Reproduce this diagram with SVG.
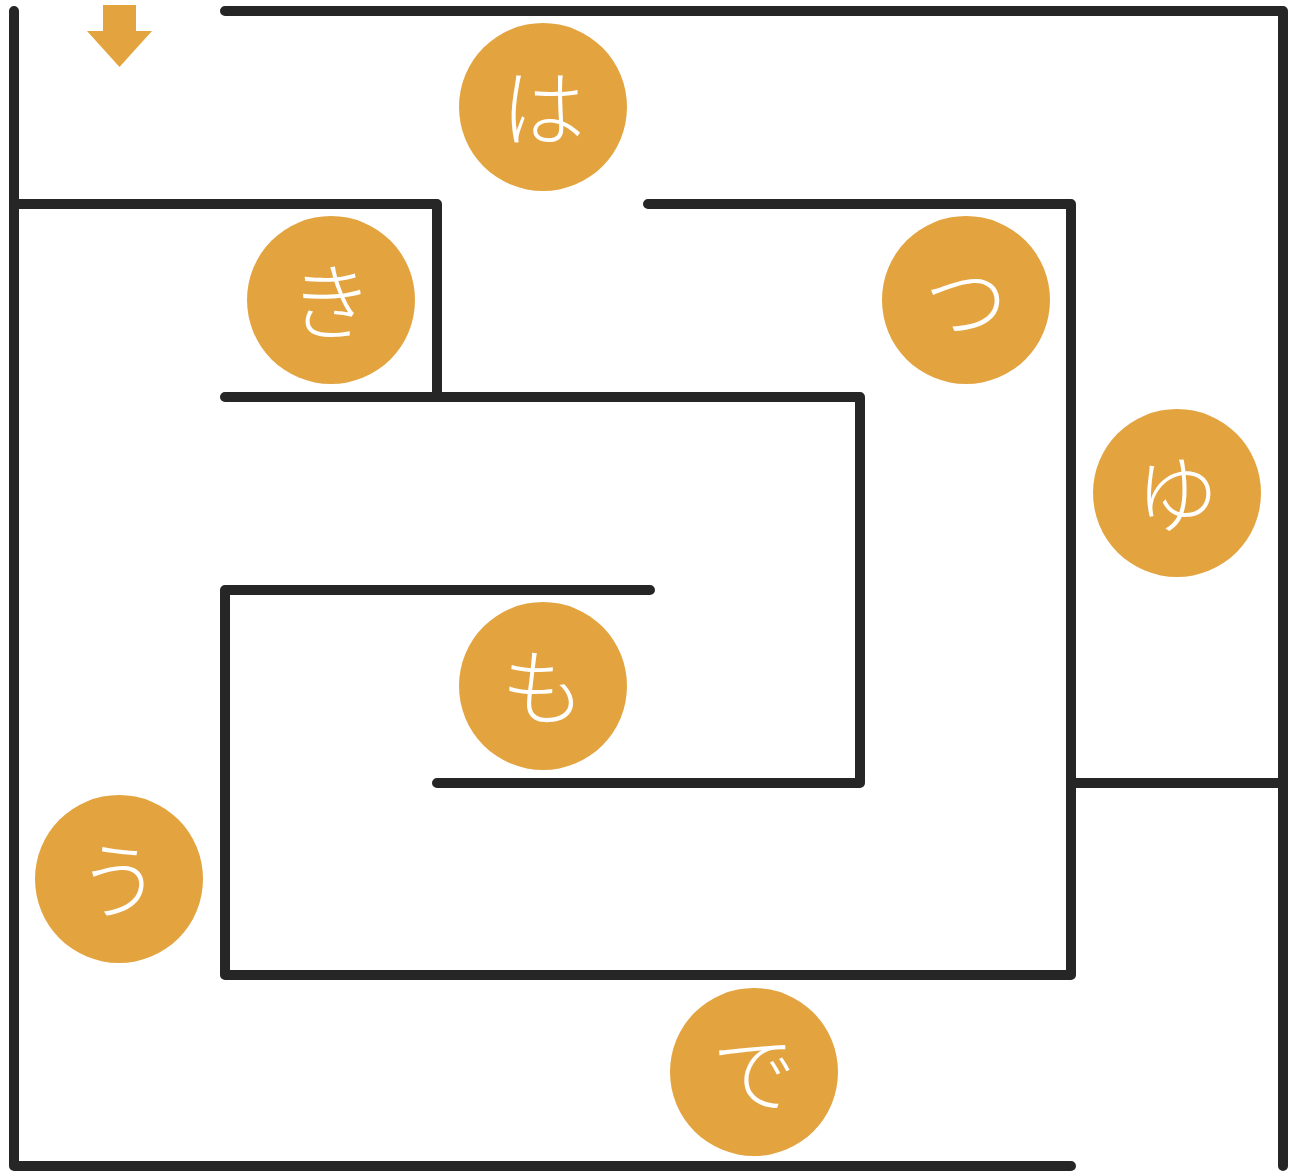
<svg xmlns="http://www.w3.org/2000/svg" width="1294" height="1172" viewBox="0 0 1294 1172">
<style>
.wall{fill:none;stroke:#262626;stroke-width:10;stroke-linecap:round;stroke-linejoin:round}
.node circle{fill:#E3A440}
.node text{fill:#fff;font-family:"Noto Sans CJK JP","Noto Sans",sans-serif;font-size:84px;font-weight:300;text-anchor:middle;dominant-baseline:central}
</style>
<rect width="1294" height="1172" fill="#fff"/>
<g id="connectors">
<polyline class="wall" points="225,11 1283,11 1283,1166"/>
<polyline class="wall" points="14,11 14,1166 1071,1166"/>
<polyline class="wall" points="14,204 437,204 437,397"/>
<polyline class="wall" points="225,397 860,397 860,783 437,783"/>
<polyline class="wall" points="648,204 1071,204 1071,975 225,975 225,590 650,590"/>
<line class="wall" x1="1071" y1="783" x2="1283" y2="783"/>
</g>
<g id="start-arrow">
<polygon fill="#E3A440" points="103,5 136,5 136,31 152,31 119.5,67 87,31 103,31"/>
</g>
<g id="node-ha" class="node"><circle cx="543" cy="107" r="84"/><text x="543" y="103">は</text></g>
<g id="node-ki" class="node"><circle cx="331" cy="300" r="84"/><text x="331" y="296">き</text></g>
<g id="node-tsu" class="node"><circle cx="966" cy="300" r="84"/><text x="966" y="296">つ</text></g>
<g id="node-yu" class="node"><circle cx="1177" cy="493" r="84"/><text x="1177" y="489">ゆ</text></g>
<g id="node-mo" class="node"><circle cx="543" cy="686" r="84"/><text x="543" y="682">も</text></g>
<g id="node-u" class="node"><circle cx="119" cy="879" r="84"/><text x="119" y="875">う</text></g>
<g id="node-de" class="node"><circle cx="754" cy="1072" r="84"/><text x="754" y="1068">で</text></g>
</svg>
